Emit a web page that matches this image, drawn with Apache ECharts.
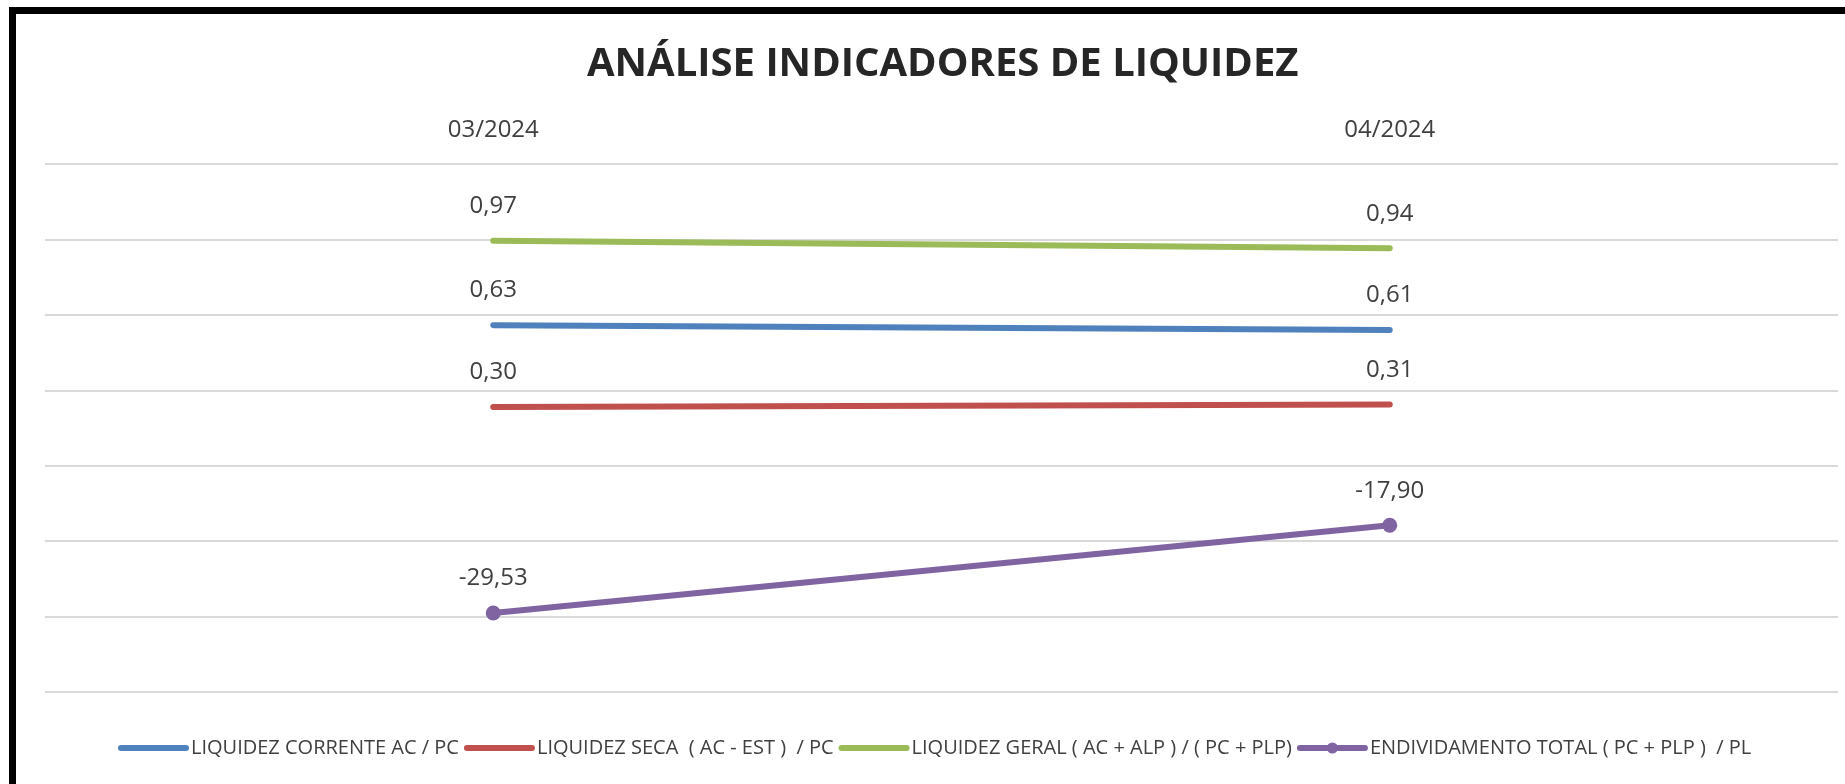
<!DOCTYPE html>
<html>
<head>
<meta charset="utf-8">
<title>Análise Indicadores de Liquidez</title>
<script src="https://cdn.jsdelivr.net/npm/echarts@6/dist/echarts.min.js"></script>
<style>
  html, body { margin: 0; padding: 0; background: #fff; }
  #chart { position: absolute; left: 0; top: 0; width: 1845px; height: 784px; }
  /* black frame from the original screenshot (left + top edges only) */
  #frame {
    position: absolute; left: 9px; top: 7px; width: 1836px; height: 777px;
    box-sizing: border-box; border-left: 7px solid #000; border-top: 7px solid #000;
    pointer-events: none;
  }
</style>
</head>
<body>
<div id="chart"></div>
<div id="frame"></div>
<script>
// categories (months)
const months = ['03/2024', '04/2024'];

// series values
const liquidezCorrente = [0.63, 0.61];
const liquidezSeca = [0.30, 0.31];
const liquidezGeral = [0.97, 0.94];
const endividamentoTotal = [-29.53, -17.90];

const seriesNames = [
  'LIQUIDEZ CORRENTE AC / PC',
  'LIQUIDEZ SECA  ( AC - EST )  / PC',
  'LIQUIDEZ GERAL ( AC + ALP ) / ( PC + PLP)',
  'ENDIVIDAMENTO TOTAL ( PC + PLP )  / PL'
];

const colors = ['#4F81BD', '#C0504D', '#9BBB59', '#8064A2'];
const textColor = '#404040';
const fontFamily = '"Open Sans", "Noto Sans", sans-serif';

const fmt = (p) => p.value.toFixed(2).replace('.', ',');

const chart = echarts.init(document.getElementById('chart'));

const lineSeries = (name, data, color, axisIndex, withMarker) => ({
  name: name,
  type: 'line',
  data: data,
  yAxisIndex: axisIndex,
  symbol: 'circle',
  symbolSize: withMarker ? 15 : 1,
  showSymbol: true,
  lineStyle: { color: color, width: 6, cap: 'round' },
  itemStyle: { color: color },
  label: {
    show: true,
    position: 'top',
    distance: withMarker ? 15 : 22,
    formatter: fmt,
    fontSize: 24,
    fontFamily: fontFamily,
    color: textColor
  },
  emphasis: { disabled: true },
  animation: false
});

const option = {
  backgroundColor: '#fff',
  title: {
    text: 'ANÁLISE INDICADORES DE LIQUIDEZ',
    left: 582,
    top: 40,
    textStyle: {
      fontSize: 40,
      fontWeight: 'bold',
      fontFamily: fontFamily,
      color: '#262626'
    }
  },
  legend: {
    left: 113,
    top: 733,
    itemWidth: 65,
    itemHeight: 14,
    itemGap: 5,
    lineStyle: { width: 6, cap: 'round' },
    textStyle: { fontSize: 20, fontFamily: fontFamily, color: textColor, padding: [0, 0, 0, 0] },
    data: [
      { name: seriesNames[0], itemStyle: { opacity: 0 } },
      { name: seriesNames[1], itemStyle: { opacity: 0 } },
      { name: seriesNames[2], itemStyle: { opacity: 0 } },
      { name: seriesNames[3] }
    ]
  },
  grid: { left: 45, right: 7, top: 164, bottom: 92, containLabel: false },
  xAxis: {
    type: 'category',
    data: months,
    position: 'top',
    boundaryGap: true,
    axisLine: { show: false },
    axisTick: { show: false },
    axisLabel: { fontSize: 24, fontFamily: fontFamily, color: textColor, margin: 22 },
    splitLine: { show: false }
  },
  yAxis: [
    {
      // liquidity ratios (hidden axis)
      type: 'value',
      min: -0.85,
      max: 1.28,
      show: false
    },
    {
      // indebtedness (hidden labels, provides the gridlines)
      type: 'value',
      min: -40,
      max: 30,
      interval: 10,
      position: 'right',
      axisLine: { show: false },
      axisTick: { show: false },
      axisLabel: { show: false },
      splitLine: { show: true, lineStyle: { color: '#d9d9d9', width: 2 } }
    }
  ],
  series: [
    lineSeries(seriesNames[0], liquidezCorrente, colors[0], 0, false),
    lineSeries(seriesNames[1], liquidezSeca, colors[1], 0, false),
    lineSeries(seriesNames[2], liquidezGeral, colors[2], 0, false),
    lineSeries(seriesNames[3], endividamentoTotal, colors[3], 1, true)
  ],
  animation: false
};

chart.setOption(option);
</script>
</body>
</html>
